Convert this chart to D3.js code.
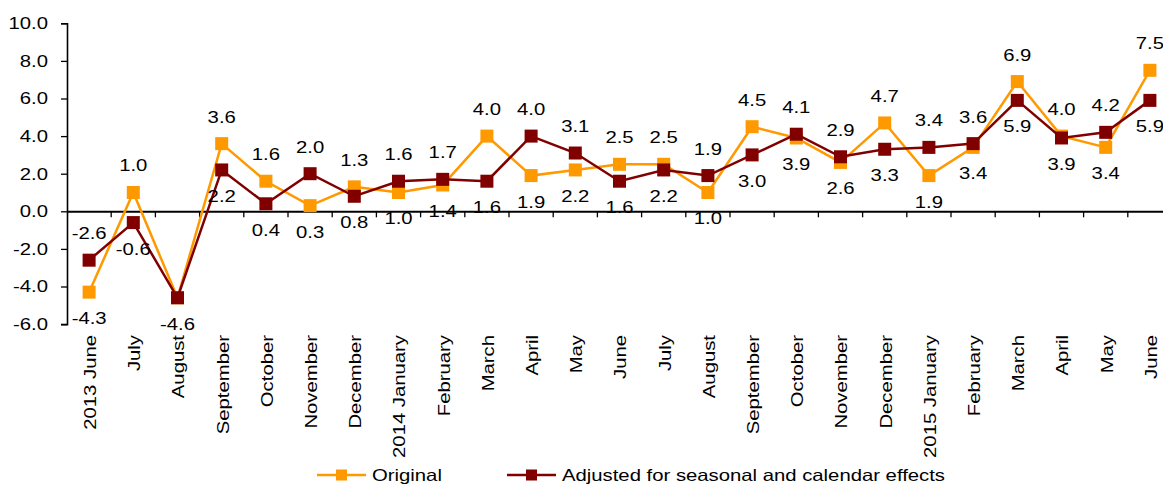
<!DOCTYPE html>
<html lang="en">
<head>
<meta charset="UTF-8">
<title>Original vs adjusted</title>
<script src="https://d3js.org/d3.v7.min.js"></script>
<style>
  body { margin: 0; background: #fff; }
  text { font-family: "Liberation Sans", Arial, sans-serif; fill: #000; }
</style>
</head>
<body>
<svg width="1163" height="486"></svg>
<script>
// month labels, June 2013 .. June 2015
const months = ["2013 June", "July", "August", "September", "October", "November", "December",
  "2014 January", "February", "March", "April", "May", "June", "July", "August", "September",
  "October", "November", "December", "2015 January", "February", "March", "April", "May", "June"];

const original = [-4.3, 1.0, -4.6, 3.6, 1.6, 0.3, 1.3, 1.0, 1.4, 4.0, 1.9, 2.2, 2.5, 2.5, 1.0,
  4.5, 3.9, 2.6, 4.7, 1.9, 3.4, 6.9, 4.0, 3.4, 7.5];

const adjusted = [-2.6, -0.6, -4.6, 2.2, 0.4, 2.0, 0.8, 1.6, 1.7, 1.6, 4.0, 3.1, 1.6, 2.2, 1.9,
  3.0, 4.1, 2.9, 3.3, 3.4, 3.6, 5.9, 3.9, 4.2, 5.9];

const yTicks = [-6, -4, -2, 0, 2, 4, 6, 8, 10];

const seriesNames = ["Original", "Adjusted for seasonal and calendar effects"];
const seriesColors = ["#FF9900", "#800000"];

const fmt = d3.formatLocale({decimal: ".", thousands: ",", grouping: [3], currency: ["", ""], minus: "-"}).format(".1f");

const svg = d3.select("svg");
const FS = 16.5, SX = 1.23;   // text is drawn a bit wider than plain Arial

const x = d3.scaleBand().domain(d3.range(months.length)).range([67, 67 + 25 * 44.2]);
const y = d3.scaleLinear().domain([-6, 10]).range([324.1, 23.3]);
const cx = i => x(i) + x.bandwidth() / 2;

// y axis
const yAxis = svg.append("g")
    .attr("transform", "translate(67,0)")
    .call(d3.axisLeft(y).tickValues(yTicks).tickSize(6).tickFormat(""));
yAxis.select(".domain").attr("stroke", "#000").attr("stroke-width", 1.6);
yAxis.selectAll(".tick line").attr("stroke", "#000").attr("stroke-width", 1.3);

svg.append("g").selectAll("text")
    .data(yTicks)
    .join("text")
    .attr("transform", d => `translate(48,${y(d)}) scale(${SX},1)`)
    .attr("dy", "0.36em")
    .attr("text-anchor", "end")
    .style("font-size", FS + "px")
    .text(d => fmt(d));

// x axis at zero
const xAxis = svg.append("g")
    .attr("transform", `translate(0,${y(0)})`)
    .call(d3.axisBottom(x).tickSize(0).tickFormat(""));
xAxis.select(".domain").attr("stroke", "#000").attr("stroke-width", 2);
xAxis.selectAll(".tick").remove();

svg.append("g").selectAll("line")
    .data(d3.range(1, months.length))
    .join("line")
    .attr("x1", d => x(d)).attr("x2", d => x(d))
    .attr("y1", y(0)).attr("y2", y(0) + 6)
    .attr("stroke", "#000").attr("stroke-width", 1.3);

// category labels, rotated
svg.append("g").selectAll("text")
    .data(months)
    .join("text")
    .attr("transform", (d, i) => `translate(${cx(i) + 1},335) rotate(-90) scale(${SX},1)`)
    .attr("dy", "0.36em")
    .attr("text-anchor", "end")
    .style("font-size", FS + "px")
    .text(d => d);

// series
const line = d3.line().x((d, i) => cx(i)).y(d => y(d));
[original, adjusted].forEach((vals, s) => {
  svg.append("path")
      .datum(vals)
      .attr("d", line)
      .attr("fill", "none")
      .attr("stroke", seriesColors[s])
      .attr("stroke-width", 2.5);
  svg.append("g").selectAll("rect")
      .data(vals)
      .join("rect")
      .attr("x", (d, i) => cx(i) - 6.5)
      .attr("y", d => y(d) - 6.5)
      .attr("width", 13).attr("height", 13)
      .attr("fill", seriesColors[s]);
});

// value labels: higher one above, lower one below
const labels = [];
months.forEach((m, i) => {
  const a = original[i], b = adjusted[i];
  if (a === b) {
    labels.push({i, v: a, pos: "below"});
  } else {
    labels.push({i, v: Math.max(a, b), pos: "above"});
    labels.push({i, v: Math.min(a, b), pos: "below"});
  }
});

svg.append("g").selectAll("text")
    .data(labels)
    .join("text")
    .attr("transform", d => `translate(${cx(d.i)},${y(d.v) + (d.pos === "above" ? -27 : 26)}) scale(${SX},1)`)
    .attr("dy", "0.36em")
    .attr("text-anchor", "middle")
    .style("font-size", FS + "px")
    .text(d => fmt(d.v));

// legend
const legendX = [317, 507];
const legend = svg.append("g").selectAll("g")
    .data(seriesNames)
    .join("g")
    .attr("transform", (d, i) => `translate(${legendX[i]},475)`);
legend.append("line")
    .attr("x1", 0).attr("x2", 49)
    .attr("stroke", (d, i) => seriesColors[i])
    .attr("stroke-width", 2.5);
legend.append("rect")
    .attr("x", 19).attr("y", -5.5)
    .attr("width", 11).attr("height", 11)
    .attr("fill", (d, i) => seriesColors[i]);
legend.append("text")
    .attr("transform", `translate(55,0) scale(${SX},1)`)
    .attr("dy", "0.36em")
    .style("font-size", FS + "px")
    .text(d => d);
</script>
</body>
</html>
